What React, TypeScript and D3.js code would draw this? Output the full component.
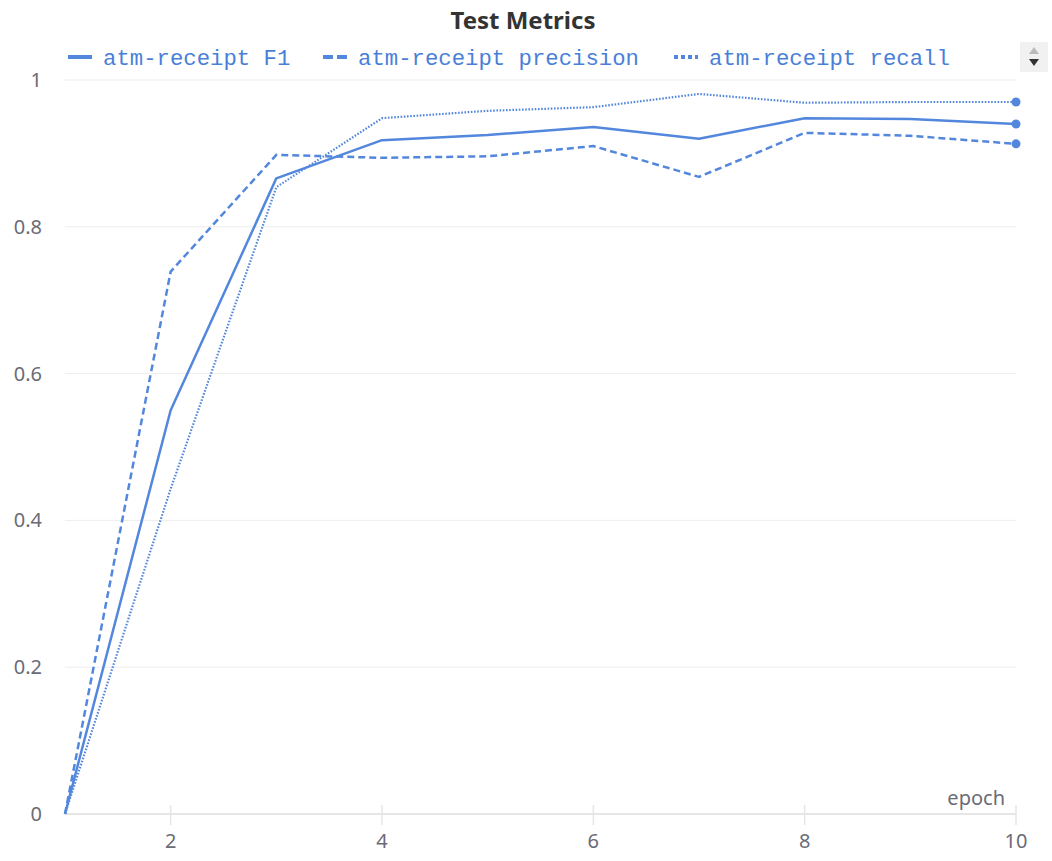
import React from "react";
import * as d3 from "d3";

const epochs = [1, 2, 3, 4, 5, 6, 7, 8, 9, 10];
const f1 = [0, 0.55, 0.866, 0.918, 0.925, 0.936, 0.92, 0.948, 0.947, 0.94];
const precision = [0, 0.739, 0.898, 0.894, 0.896, 0.91, 0.868, 0.928, 0.924, 0.913];
const recall = [0, 0.443, 0.854, 0.948, 0.958, 0.963, 0.981, 0.969, 0.97, 0.97];
const seriesNames = ["atm-receipt F1", "atm-receipt precision", "atm-receipt recall"];
const yTicks = [0, 0.2, 0.4, 0.6, 0.8, 1];
const xTicks = [2, 4, 6, 8, 10];

const W = 1052;
const H = 861;
const COLOR = "#5387dd";
const TEXT_COLOR = "#4a7fd8";

export default function App() {
  const x = d3.scaleLinear().domain([1, 10]).range([65, 1016]);
  const y = d3.scaleLinear().domain([0, 1]).range([814, 80]);
  const line = d3
    .line<number>()
    .x((_, i) => x(epochs[i]))
    .y((d) => y(d));

  const series = [
    { name: seriesNames[0], data: f1, dash: undefined as string | undefined, width: 2.5 },
    { name: seriesNames[1], data: precision, dash: "7 4", width: 2.5 },
    { name: seriesNames[2], data: recall, dash: "1.6 1.6", width: 2.2 },
  ];

  const legendX = [68, 323, 674];
  const fontSans = "'Source Sans Pro', 'Noto Sans', Lato, sans-serif";

  return (
    <svg
      width={W}
      height={H}
      style={{ position: "absolute", left: 0, top: 0, background: "#fff" }}
    >
      <text
        x={523}
        y={29}
        textAnchor="middle"
        fontFamily={fontSans}
        fontWeight={700}
        fontSize={24}
        fill="#333"
      >
        Test Metrics
      </text>

      {series.map((s, i) => (
        <g key={s.name}>
          <line
            x1={legendX[i]}
            x2={legendX[i] + 24}
            y1={57}
            y2={57}
            stroke={COLOR}
            strokeWidth={4}
            strokeDasharray={i === 1 ? "10 4" : i === 2 ? "4 3" : undefined}
          />
          <text
            x={legendX[i] + 35}
            y={65}
            fontFamily="'Liberation Mono', 'DejaVu Sans Mono', monospace"
            fontSize={22.3}
            fill={TEXT_COLOR}
          >
            {s.name}
          </text>
        </g>
      ))}

      {/* scroll widget */}
      <rect x={1020} y={42} width={28} height={30} fill="#f1f1f1" />
      <path d="M1029,54 L1039,54 L1034,47 Z" fill="#bbb" />
      <path d="M1029,59 L1039,59 L1034,66 Z" fill="#333" />

      {/* grid */}
      {yTicks.filter((t) => t > 0).map((t) => (
        <line
          key={t}
          x1={65}
          x2={1016}
          y1={y(t)}
          y2={y(t)}
          stroke="#ededed"
          strokeWidth={1}
        />
      ))}
      {yTicks.map((t) => (
        <text
          key={"yl" + t}
          x={42}
          y={y(t) + 7}
          textAnchor="end"
          fontFamily={fontSans}
          fontSize={20}
          fill="#6b6b76"
        >
          {d3.format("~g")(t)}
        </text>
      ))}

      {/* x axis */}
      <line x1={65} x2={1016} y1={814} y2={814} stroke="#e6e6e6" strokeWidth={2} />
      {xTicks.map((t) => (
        <g key={"xt" + t}>
          <line x1={x(t)} x2={x(t)} y1={805} y2={825} stroke="#e6e6e6" strokeWidth={1.5} />
          <text
            x={x(t)}
            y={848}
            textAnchor="middle"
            fontFamily={fontSans}
            fontSize={20}
            fill="#6b6b76"
          >
            {t}
          </text>
        </g>
      ))}
      <text
        x={1005}
        y={805}
        textAnchor="end"
        fontFamily={fontSans}
        fontSize={20}
        fill="#6b6b76"
      >
        epoch
      </text>

      {series.map((s) => (
        <g key={"l" + s.name}>
          <path
            d={line(s.data) || ""}
            fill="none"
            stroke={COLOR}
            strokeWidth={s.width}
            strokeDasharray={s.dash}
            strokeLinejoin="round"
          />
          <circle cx={x(10)} cy={y(s.data[s.data.length - 1])} r={4.5} fill={COLOR} />
        </g>
      ))}
    </svg>
  );
}
